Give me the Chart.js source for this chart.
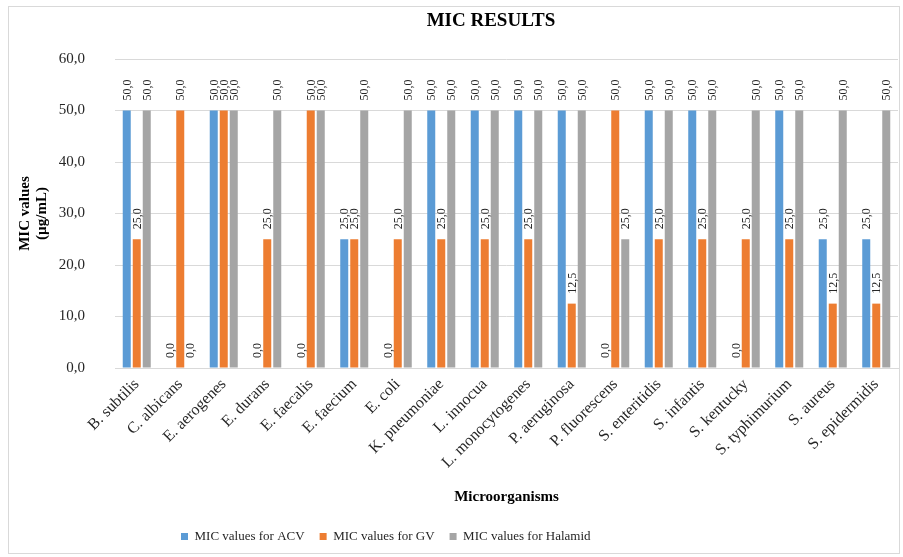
<!DOCTYPE html>
<html>
<head>
<meta charset="utf-8">
<script src="https://cdn.jsdelivr.net/npm/chart.js@4.4.1/dist/chart.umd.min.js"></script>
<style>
  html, body { margin: 0; padding: 0; background: #ffffff; }
  #wrap { position: absolute; left: 0; top: 0; width: 903px; height: 557px; }
</style>
</head>
<body>
<div id="wrap"><canvas id="c" width="903" height="557"></canvas></div>
<script>
const categories = ["B. subtilis", "C. albicans", "E. aerogenes", "E. durans", "E. faecalis", "E. faecium", "E. coli", "K. pneumoniae", "L. innocua", "L. monocytogenes", "P. aeruginosa", "P. fluorescens", "S. enteritidis", "S. infantis", "S. kentucky", "S. typhimurium", "S. aureus", "S. epidermidis"];
const acvValues     = [50, 0, 50, 0, 0, 25, 0, 50, 50, 50, 50, 0, 50, 50, 0, 50, 25, 25];
const gvValues      = [25, 50, 50, 25, 50, 25, 25, 25, 25, 25, 12.5, 50, 25, 25, 25, 25, 12.5, 12.5];
const halamidValues = [50, 0, 50, 50, 50, 50, 50, 50, 50, 50, 50, 25, 50, 50, 50, 50, 50, 50];
const seriesNames = ["MIC values for ACV", "MIC values for GV", "MIC values for Halamid"];
const yTicks = [0, 10, 20, 30, 40, 50, 60];
const chartTitle = "MIC RESULTS";
const yTitle = ["MIC values", "(µg/mL)"];
const xTitle = "Microorganisms";

const fmt = v => v.toFixed(1).replace('.', ',');
const SERIF = '"Liberation Serif", "Times New Roman", serif';

const frameAndTitle = {
  id: 'frameAndTitle',
  beforeDraw(chart) {
    const ctx = chart.ctx;
    ctx.save();
    ctx.fillStyle = '#ffffff';
    ctx.fillRect(0, 0, chart.width, chart.height);
    ctx.strokeStyle = '#d9d9d9';
    ctx.lineWidth = 1;
    ctx.strokeRect(8.5, 6.5, 891, 547);
    ctx.restore();
  },
  afterDraw(chart) {
    const ctx = chart.ctx;
    ctx.save();
    ctx.font = 'bold 19px ' + SERIF;
    ctx.fillStyle = '#000000';
    ctx.textAlign = 'center';
    ctx.textBaseline = 'middle';
    ctx.fillText(chartTitle, 491, 21);
    ctx.restore();
  }
};

const dataLabels = {
  id: 'dataLabels',
  afterDatasetsDraw(chart) {
    const ctx = chart.ctx;
    ctx.save();
    ctx.font = '12px ' + SERIF;
    ctx.fillStyle = '#262626';
    ctx.textAlign = 'left';
    ctx.textBaseline = 'middle';
    chart.data.datasets.forEach((ds, i) => {
      const meta = chart.getDatasetMeta(i);
      meta.data.forEach((bar, j) => {
        ctx.save();
        ctx.translate(bar.x + 1, bar.y - 10);
        ctx.rotate(-Math.PI / 2);
        ctx.fillText(fmt(ds.data[j]), 0, 0);
        ctx.restore();
      });
    });
    ctx.restore();
  }
};

const legendShift = {
  id: 'legendShift',
  afterLayout(chart) {
    if (chart.legend) {
      const w = chart.legend.width;
      chart.legend.left = 166;
      chart.legend.right = 166 + w;
    }
  }
};

new Chart(document.getElementById('c'), {
  type: 'bar',
  data: {
    labels: categories,
    datasets: [
      { label: seriesNames[0], data: acvValues, backgroundColor: '#5B9BD5' },
      { label: seriesNames[1], data: gvValues, backgroundColor: '#ED7D31' },
      { label: seriesNames[2], data: halamidValues, backgroundColor: '#A5A5A5' }
    ]
  },
  options: {
    responsive: false,
    animation: false,
    devicePixelRatio: 1,
    categoryPercentage: 0.69,
    barPercentage: 0.8,
    layout: { padding: { left: 10, right: 5, top: 59, bottom: 4 } },
    plugins: {
      legend: {
        position: 'bottom',
        align: 'start',
        labels: {
          boxWidth: 7,
          boxHeight: 7,
          padding: 15,
          color: '#262626',
          font: { family: SERIF, size: 13 }
        }
      },
      title: { display: false },
      tooltip: { enabled: false }
    },
    scales: {
      x: {
        grid: { display: false, drawTicks: false },
        border: { display: true, color: '#d9d9d9' },
        ticks: {
          autoSkip: false,
          minRotation: 45,
          maxRotation: 45,
          padding: 7,
          color: '#262626',
          font: { family: SERIF, size: 16 }
        },
        title: {
          display: true,
          text: xTitle,
          color: '#000000',
          padding: { top: 4, bottom: 9 },
          font: { family: SERIF, size: 15, weight: 'bold' }
        },
        afterFit(scale) { scale.height = 147; }
      },
      y: {
        min: 0,
        max: 60,
        afterBuildTicks(scale) { scale.ticks = yTicks.map(v => ({ value: v })); },
        grid: { color: '#d9d9d9', drawTicks: false },
        border: { display: false },
        ticks: {
          padding: 30,
          color: '#262626',
          font: { family: SERIF, size: 15 },
          callback: v => fmt(v)
        },
        title: {
          display: true,
          text: yTitle,
          color: '#000000',
          padding: { top: 6, bottom: 0 },
          font: { family: SERIF, size: 15, weight: 'bold', lineHeight: 1.15 }
        },
        afterFit(scale) { scale.width = 105; }
      }
    }
  },
  plugins: [frameAndTitle, dataLabels, legendShift]
});
</script>
</body>
</html>
